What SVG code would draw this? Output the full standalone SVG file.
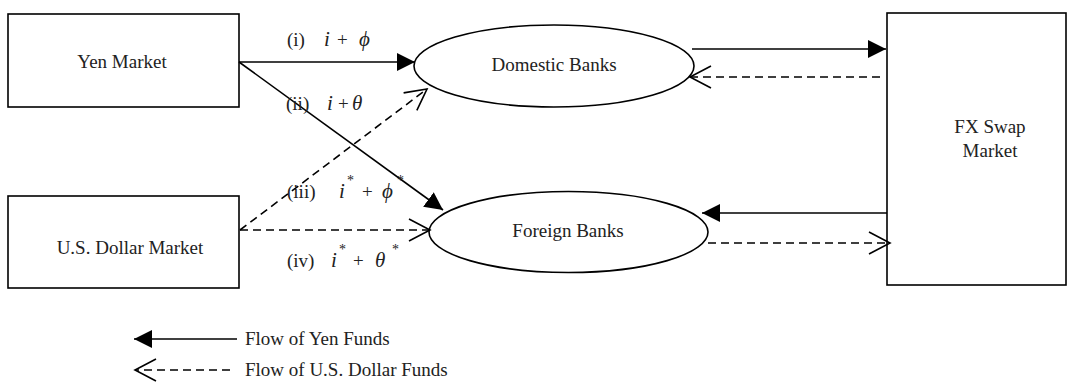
<svg xmlns="http://www.w3.org/2000/svg" width="1074" height="383" viewBox="0 0 1074 383">
<style>
.box{fill:#fff;stroke:#000;stroke-width:1.6}
.lbl{font-family:"Liberation Serif",serif;font-size:19px;fill:#222;text-anchor:middle}
.math{font-family:"Liberation Serif",serif;font-size:19px;fill:#222}
.it{font-style:italic;font-size:21px}
.sup{font-size:14px}
.solid{stroke:#000;stroke-width:1.6;fill:none}
.dash{stroke:#000;stroke-width:1.6;fill:none;stroke-dasharray:8 5}
</style>
<defs>
<marker id="fill" markerUnits="userSpaceOnUse" markerWidth="20" markerHeight="20" refX="18" refY="9" orient="auto">
<path d="M0,0 L18,9 L0,18 z" fill="#000"/>
</marker>
<marker id="open" markerUnits="userSpaceOnUse" markerWidth="26" markerHeight="26" refX="22" refY="12" orient="auto">
<path d="M1,1 L22,12 L1,23" fill="none" stroke="#000" stroke-width="1.6"/>
</marker>
</defs>
<rect width="1074" height="383" fill="#fff"/>
<g id="yen-market"><rect class="box" x="8" y="14" width="231" height="93"/><text class="lbl" x="122" y="68">Yen Market</text></g>
<g id="usd-market"><rect class="box" x="8" y="196" width="231" height="92"/><text class="lbl" x="130" y="254">U.S. Dollar Market</text></g>
<g id="domestic-banks"><ellipse class="box" cx="554" cy="66" rx="140" ry="41"/><text class="lbl" x="554" y="71">Domestic Banks</text></g>
<g id="foreign-banks"><ellipse class="box" cx="568.5" cy="232" rx="139.5" ry="40.5"/><text class="lbl" x="568" y="237">Foreign Banks</text></g>
<g id="fx-swap"><rect class="box" x="887" y="13" width="179" height="272"/><text class="lbl" x="990" y="133">FX Swap</text><text class="lbl" x="990" y="157">Market</text></g>
<g id="connectors">
<line class="solid" x1="239" y1="62" x2="415" y2="62" marker-end="url(#fill)"/>
<line class="solid" x1="239" y1="62" x2="443" y2="210" marker-end="url(#fill)"/>
<line class="dash" x1="240" y1="230" x2="427" y2="89" marker-end="url(#open)"/>
<line class="dash" x1="240" y1="230" x2="430" y2="230" marker-end="url(#open)"/>
<line class="solid" x1="692" y1="49" x2="886" y2="49" marker-end="url(#fill)"/>
<line class="dash" x1="880" y1="77" x2="690" y2="77" marker-end="url(#open)"/>
<line class="solid" x1="887" y1="213" x2="702" y2="213" marker-end="url(#fill)"/>
<line class="dash" x1="708" y1="243" x2="890" y2="243" marker-end="url(#open)"/>
</g>
<g id="labels">
<text class="math" x="287" y="46">(i)<tspan class="it" x="324">i</tspan><tspan x="337">+</tspan><tspan class="it" x="359">ϕ</tspan></text>
<text class="math" x="286" y="110">(ii)<tspan class="it" x="327">i</tspan><tspan x="338">+</tspan><tspan class="it" x="352">θ</tspan></text>
<text class="math" x="287" y="198">(iii)<tspan class="it" x="339">i</tspan><tspan class="sup" x="347" y="185">*</tspan><tspan x="362" y="198">+</tspan><tspan class="it" x="382">ϕ</tspan><tspan class="sup" x="397" y="185">*</tspan></text>
<text class="math" x="287" y="267">(iv)<tspan class="it" x="331">i</tspan><tspan class="sup" x="339" y="254">*</tspan><tspan x="353" y="267">+</tspan><tspan class="it" x="375">θ</tspan><tspan class="sup" x="392" y="254">*</tspan></text>
</g>
<g id="legend">
<line class="solid" x1="237" y1="339" x2="134" y2="339" marker-end="url(#fill)"/>
<text class="math" x="245" y="345" font-size="17">Flow of Yen Funds</text>
<line class="dash" x1="230" y1="370" x2="135" y2="370" marker-end="url(#open)" stroke-dasharray="10 6"/>
<text class="math" x="245" y="376" font-size="17">Flow of U.S. Dollar Funds</text>
</g>
</svg>
